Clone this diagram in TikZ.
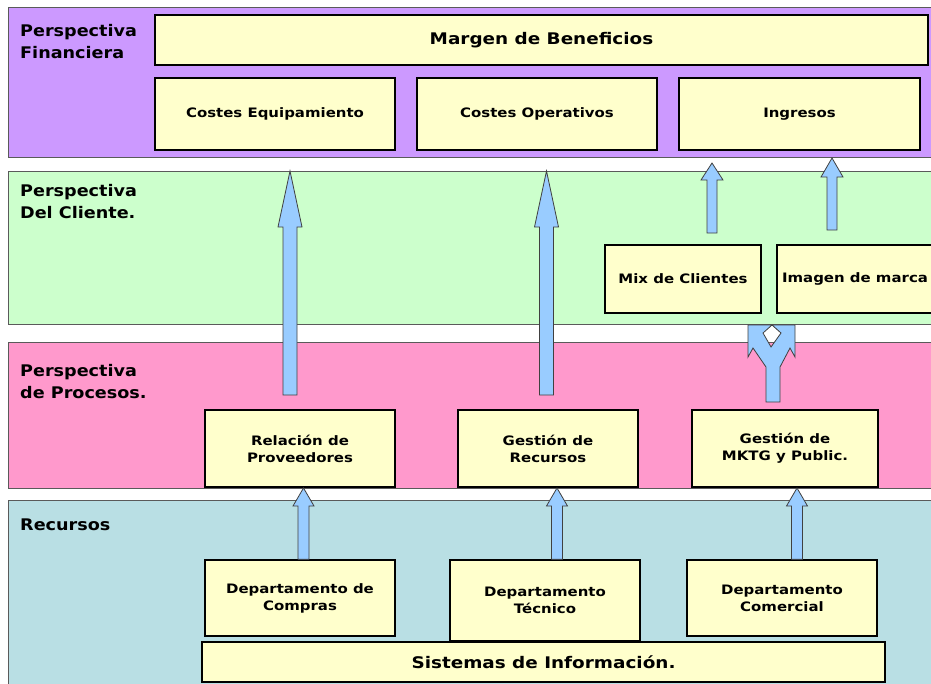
\documentclass[tikz,border=0pt]{standalone}
\usepackage{fontspec}
\setmainfont{DejaVu Sans}
\newfontfamily\widefont{DejaVu Sans}[FakeStretch=1.15]
\newfontfamily\labelfont{DejaVu Sans}[FakeStretch=1.1]
\usetikzlibrary{calc}

\definecolor{bandpurple}{RGB}{204,153,255}
\definecolor{bandgreen}{RGB}{204,255,204}
\definecolor{bandpink}{RGB}{255,153,204}
\definecolor{bandteal}{RGB}{185,223,228}
\definecolor{boxyellow}{RGB}{255,255,204}
\definecolor{arrowblue}{RGB}{153,204,255}
\definecolor{bandline}{RGB}{90,90,90}

% Block arrow pointing up: #1 tail, #2 tip, #3 half shaft, #4 half head, #5 head length
\newcommand\blockup[5]{%
  \draw[fat] let \p1=(#1), \p2=(#2) in
    (\x1-#3,\y1) -- (\x1-#3,\y2-#5) -- (\x1-#4,\y2-#5) -- (\x1,\y2)
    -- (\x1+#4,\y2-#5) -- (\x1+#3,\y2-#5) -- (\x1+#3,\y1) -- cycle;}

\begin{document}
\begin{tikzpicture}[x=1pt,y=-1pt,
  band/.style={draw=bandline, line width=1pt},
  box/.style={draw=black, line width=1.4pt, fill=boxyellow, align=center,
    inner sep=0pt, font=\widefont\bfseries\fontsize{13}{17}\selectfont},
  bigbox/.style={box, font=\widefont\bfseries\fontsize{16}{19}\selectfont},
  lbl/.style={anchor=north west, align=left, inner sep=0pt,
    font=\labelfont\bfseries\fontsize{16}{22}\selectfont},
  fat/.style={draw=black!75, line width=0.8pt, fill=arrowblue, line join=miter}]

\useasboundingbox (0,0) rectangle (931,683);
\fill[white] (0,0) rectangle (931,683);

% perspective bands
\draw[band, fill=bandpurple] (8,7) rectangle (945,157);
\draw[band, fill=bandgreen]  (8,171) rectangle (945,324);
\draw[band, fill=bandpink]   (8,342) rectangle (945,488);
\draw[band, fill=bandteal]   (8,500) rectangle (945,700);

\node[lbl] (lfin) at (20,24) {Perspectiva\\Financiera};
\node[lbl] (lcli) at (20,184) {Perspectiva\\Del Cliente.};
\node[lbl] (lpro) at (20,364) {Perspectiva\\de Procesos.};
\node[lbl] (lrec) at (20,519) {Recursos};

% financial perspective
\node[bigbox, minimum width=773pt, minimum height=50pt] (margen) at (541.5,40) {Margen de Beneficios};
\node[box, minimum width=240pt, minimum height=72pt] (ceq) at (275,114) {Costes Equipamiento};
\node[box, minimum width=240pt, minimum height=72pt] (cop) at (537,114) {Costes Operativos};
\node[box, minimum width=241pt, minimum height=72pt] (ing) at (799.5,114) {Ingresos};

% customer perspective
\node[box, minimum width=156pt, minimum height=68pt] (mix) at (683,279) {Mix de Clientes};
\node[box, minimum width=156pt, minimum height=68pt] (img) at (855,279) {Imagen de marca};

% process perspective
\node[box, minimum width=190pt, minimum height=77pt] (rel) at (300,448.5) {Relación de\\Proveedores};
\node[box, minimum width=180pt, minimum height=77pt] (grec) at (548,448.5) {Gestión de\\Recursos};
\node[box, minimum width=186pt, minimum height=77pt] (mktg) at (785,448.5) {Gestión de\\MKTG y Public.};

% resources
\node[box, minimum width=190pt, minimum height=76pt] (dcomp) at (300,598) {Departamento de\\Compras};
\node[box, minimum width=190pt, minimum height=81pt] (dtec) at (545,600.5) {Departamento\\Técnico};
\node[box, minimum width=190pt, minimum height=76pt] (dcom) at (782,598) {Departamento\\Comercial};
\node[bigbox, minimum width=683pt, minimum height=40pt] (sis) at (543.5,662) {Sistemas de Información.};

% arrow end points
\coordinate (a1t) at (290,395); \coordinate (a1h) at (290,171);
\coordinate (a2t) at (546.5,395); \coordinate (a2h) at (546.5,171);
\coordinate (a3t) at (712,233); \coordinate (a3h) at (712,163);
\coordinate (a4t) at (832,230); \coordinate (a4h) at (832,158);
\coordinate (b1t) at (dcomp.north -| 303.5,0); \coordinate (b1h) at (303.5,488);
\coordinate (b2t) at (dtec.north -| 557,0);   \coordinate (b2h) at (557,488);
\coordinate (b3t) at (dcom.north -| 797,0);   \coordinate (b3h) at (797,488);

\blockup{a1t}{a1h}{7pt}{12pt}{56pt}
\blockup{a2t}{a2h}{7pt}{12pt}{56pt}
\blockup{a3t}{a3h}{5pt}{11pt}{17pt}
\blockup{a4t}{a4h}{5pt}{11pt}{19pt}
\blockup{b1t}{b1h}{5.5pt}{10.5pt}{18pt}
\blockup{b2t}{b2h}{5.5pt}{10.5pt}{18pt}
\blockup{b3t}{b3h}{5.5pt}{10.5pt}{18pt}

% forked arrow between marketing and the customer boxes
\draw[fat, even odd rule]
  (766,402) -- (766,367) -- (753,348) -- (748,357) -- (748,325) -- (795,325)
  -- (795,357) -- (790,348) -- (780,367) -- (780,402) -- cycle
  (772,325) -- (781,333) -- (771,347) -- (763,333) -- cycle;

\end{tikzpicture}
\end{document}
